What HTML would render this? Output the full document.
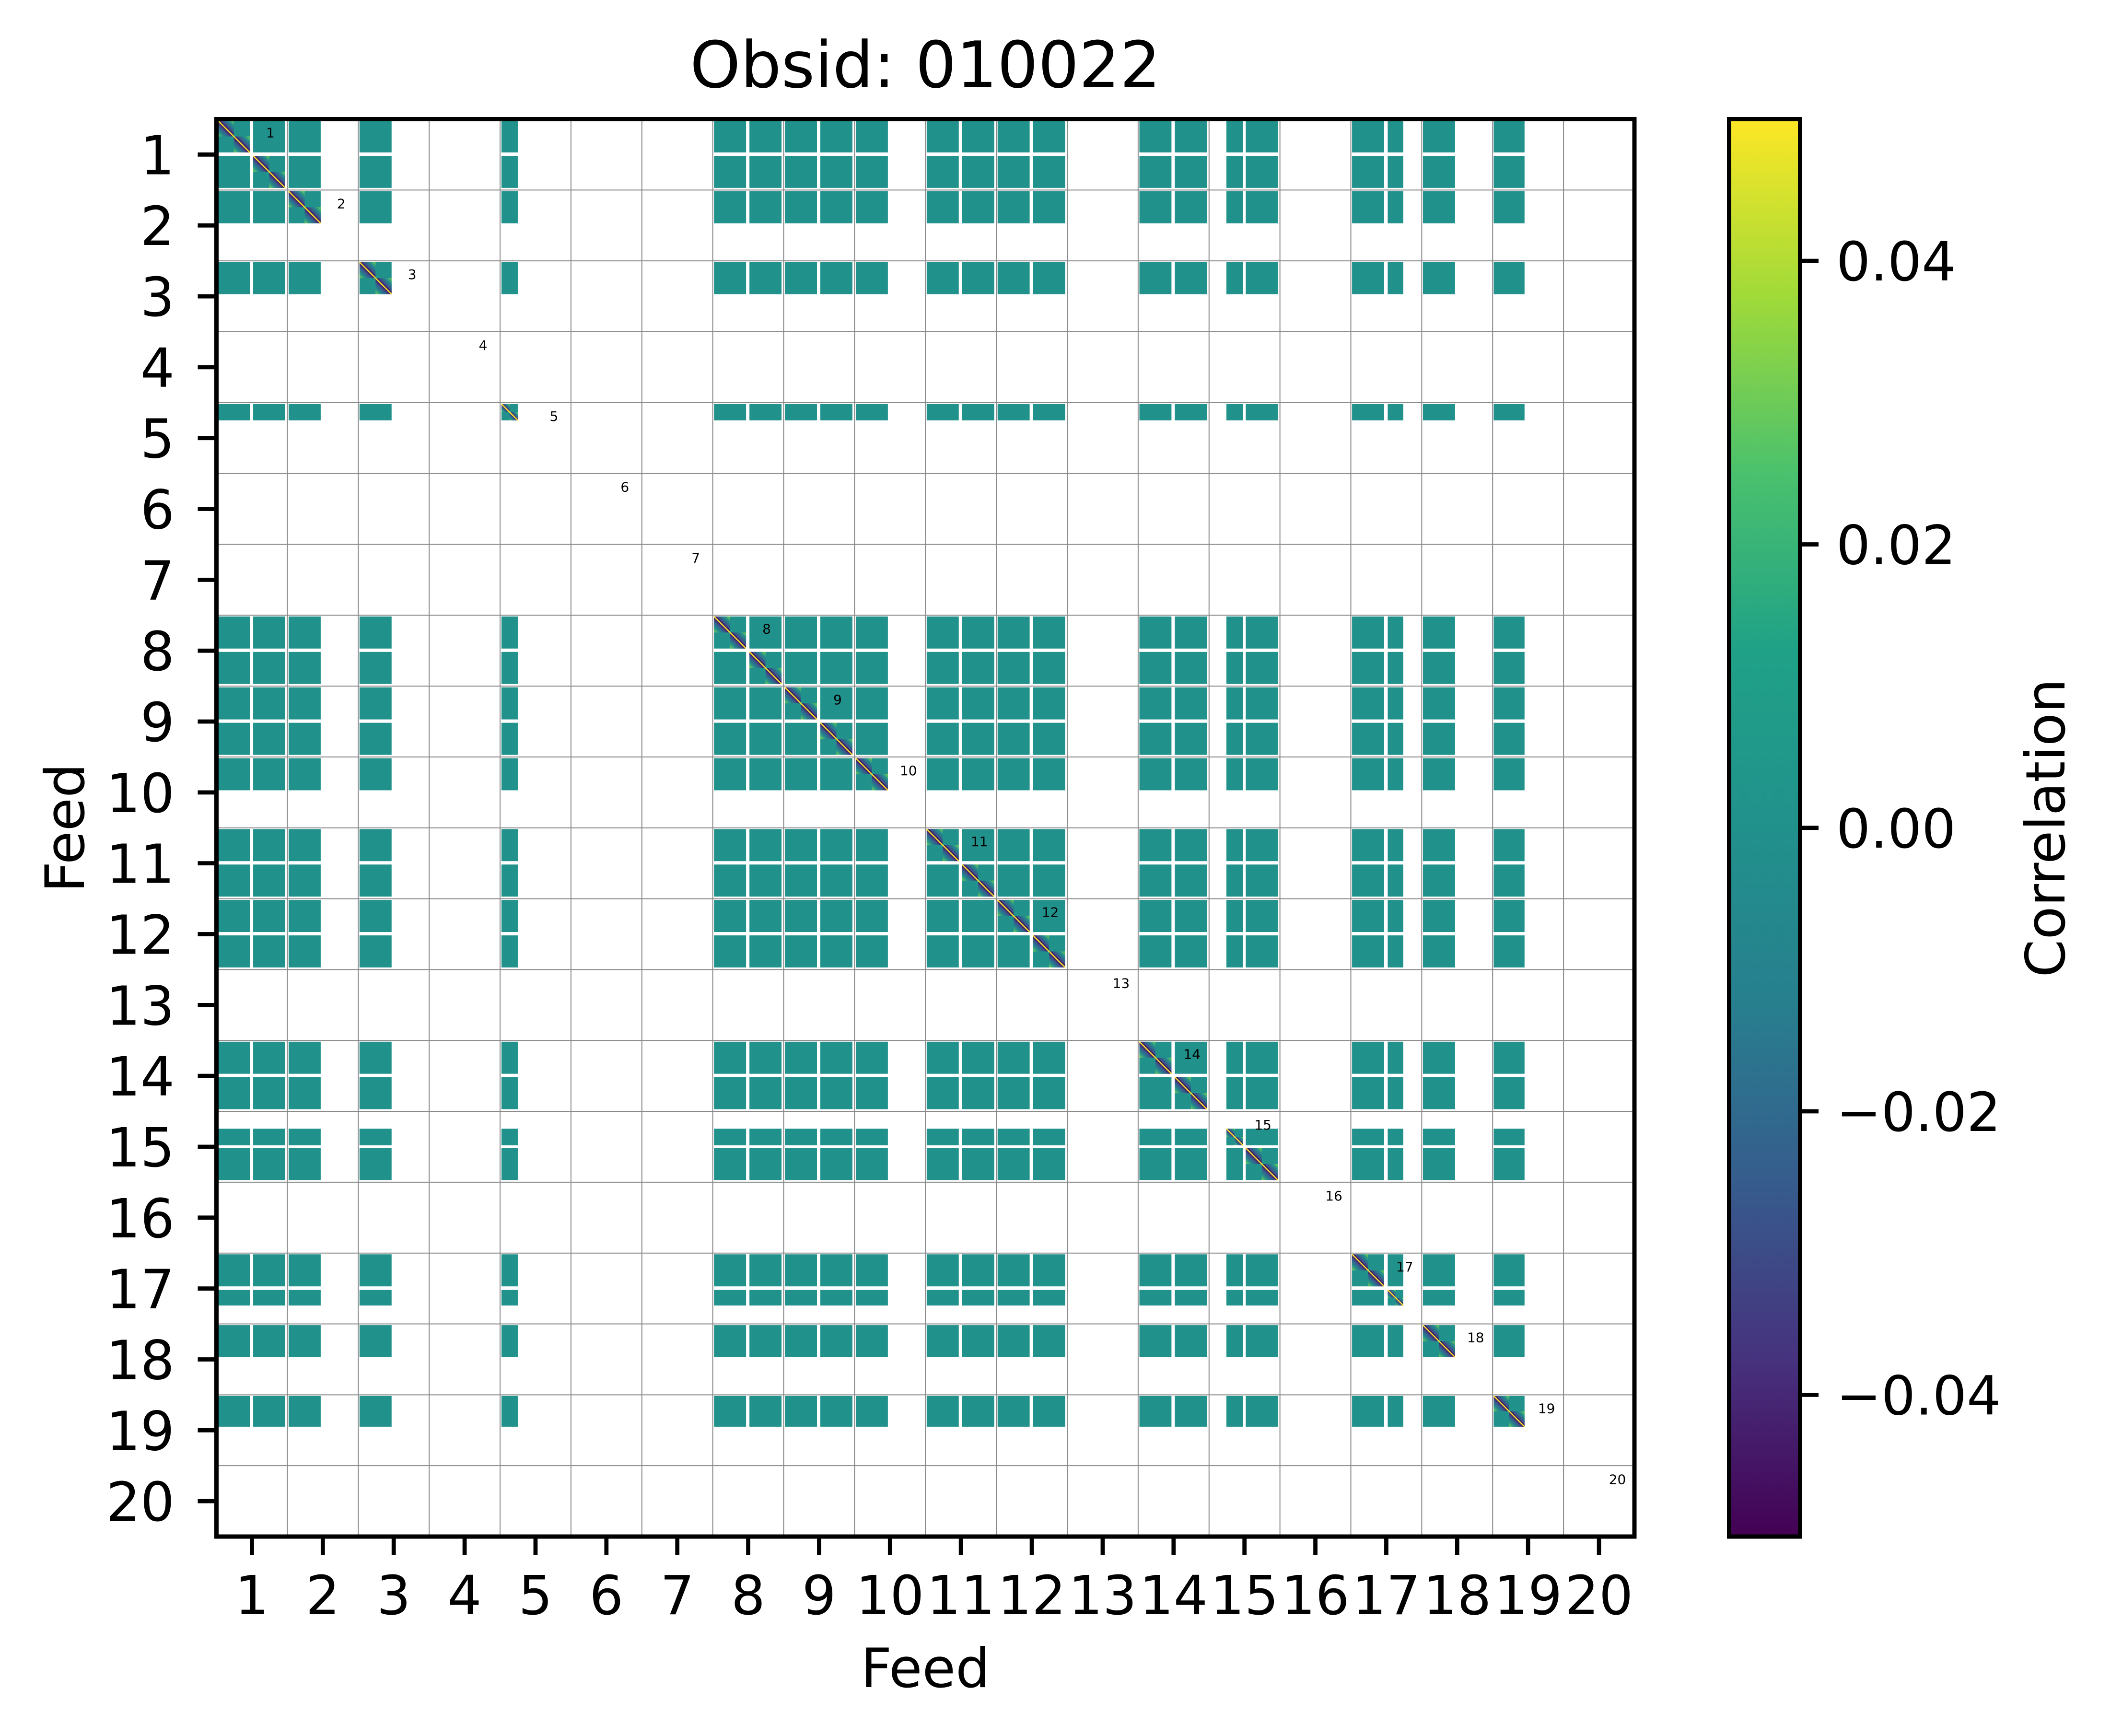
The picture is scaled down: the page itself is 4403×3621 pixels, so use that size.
<!DOCTYPE html>
<html><head><meta charset="utf-8"><title>Obsid: 010022</title>
<style>
html,body{margin:0;padding:0;background:#fff;}
svg{display:block;font-family:"DejaVu Sans","Liberation Sans",sans-serif;}
</style></head>
<body>
<svg id="chart" xmlns="http://www.w3.org/2000/svg" width="4403" height="3621" viewBox="0 0 4403 3621">
<defs>
<linearGradient id="viridis" x1="0" y1="1" x2="0" y2="0">
<stop offset="0" stop-color="#440154"/><stop offset="0.125" stop-color="#46327e"/><stop offset="0.25" stop-color="#365c8d"/><stop offset="0.375" stop-color="#277f8e"/><stop offset="0.5" stop-color="#21918c"/><stop offset="0.625" stop-color="#1fa187"/><stop offset="0.75" stop-color="#4ac16d"/><stop offset="0.875" stop-color="#a0da39"/><stop offset="1" stop-color="#fde725"/>
</linearGradient>
<linearGradient id="diagGrad" x1="1" y1="0" x2="0" y2="1">
<stop offset="0" stop-color="#7ad151"/><stop offset="0.18" stop-color="#21918c"/><stop offset="0.38" stop-color="#3b528b"/><stop offset="0.5" stop-color="#440154"/><stop offset="0.62" stop-color="#3b528b"/><stop offset="0.82" stop-color="#21918c"/><stop offset="1" stop-color="#7ad151"/>
</linearGradient>
</defs>
<g id="grid"></g>
<g id="cells"></g>
<g id="labels"></g>
<g id="axes"></g>
<text x="1930" y="182" font-size="134" text-anchor="middle">Obsid: 010022</text>
<text x="1930" y="3519" font-size="113" text-anchor="middle">Feed</text>
<text x="175" y="1727" font-size="113" text-anchor="middle" transform="rotate(-90 175 1727)">Feed</text>
<rect x="3606.5" y="248.5" width="148" height="2956.5" fill="url(#viridis)" stroke="#000" stroke-width="9"/>
<g id="cbar"></g>
<text x="4306" y="1727" font-size="113" text-anchor="middle" transform="rotate(-90 4306 1727)">Correlation</text>
</svg>
<script>
const feeds = [1,2,3,4,5,6,7,8,9,10,11,12,13,14,15,16,17,18,19,20];
// valid-channel extent of each half-feed block (fraction of half cell), index = 2*(feed-1)+half
const halfLo = [0.035,0.035, 0.035,0, 0.035,0, 0,0, 0.04,0, 0,0, 0,0, 0.035,0.035, 0.035,0.035, 0.035,0,
                0.035,0.035, 0.035,0.035, 0,0, 0.035,0.035, 0.49,0.035, 0,0, 0.035,0.04, 0.035,0, 0.03,0, 0,0];
const halfHi = [0.94,0.94, 0.94,0, 0.94,0, 0,0, 0.5,0, 0,0, 0,0, 0.94,0.94, 0.94,0.94, 0.94,0,
                0.94,0.94, 0.94,0.94, 0,0, 0.94,0.94, 0.96,0.94, 0,0, 0.94,0.48, 0.94,0, 0.9,0, 0,0];
const offDiagCorr = 0.0;
const cbarTicks = [-0.04,-0.02,0.00,0.02,0.04];
const cbarLabels = ["\u22120.04","\u22120.02","0.00","0.02","0.04"];

const NS='http://www.w3.org/2000/svg';
const X0=451.5, Y0=248.5, W=2957.5, H=2956.5, N=20;
const CB0=248.5, CB1=3205, VMIN=-0.05, VMAX=0.05;
function xs(v){return X0+v/N*W;}
function ys(v){return Y0+v/N*H;}
function cby(v){return CB1-(v-VMIN)/(VMAX-VMIN)*(CB1-CB0);}
function viridis(v){
  const stops=[[68,1,84],[59,82,139],[33,145,140],[94,201,98],[253,231,37]];
  let t=Math.max(0,Math.min(1,(v-VMIN)/(VMAX-VMIN)))*(stops.length-1);
  const i=Math.min(stops.length-2,Math.floor(t)); const f=t-i;
  const c=stops[i].map((a,k)=>Math.round(a+(stops[i+1][k]-a)*f));
  return 'rgb('+c.join(',')+')';
}
function mk(tag,attrs,parent){const e=document.createElementNS(NS,tag);for(const k in attrs)e.setAttribute(k,attrs[k]);parent.appendChild(e);return e;}

const grid=document.getElementById('grid');
for(let k=1;k<N;k++){
  const v=mk('line',{x1:xs(k),x2:xs(k),y1:Y0,y2:Y0+H,stroke:'#8a8a8a','stroke-width':2},grid);
  
  
  const h=mk('line',{x1:X0,x2:X0+W,y1:ys(k),y2:ys(k),stroke:'#8a8a8a','stroke-width':2},grid);
  
  
}

const cells=document.getElementById('cells');
const nh=halfLo.length;
function lo(i){return i*0.5+halfLo[i]*0.5;}
function hi(i){return i*0.5+halfHi[i]*0.5;}
for(let r=0;r<nh;r++){
  if(halfHi[r]<=halfLo[r]) continue;
  for(let c=0;c<nh;c++){
    if(halfHi[c]<=halfLo[c]) continue;
    const x=xs(lo(c)), y=ys(lo(r)), w=xs(hi(c))-x, h=ys(hi(r))-y;
    if(r===c){
      const g=mk('g',{},cells);
      
      
      mk('rect',{x:x,y:y,width:w,height:h,fill:viridis(offDiagCorr)},g);
      mk('rect',{x:x,y:y,width:w/2,height:h/2,fill:'url(#diagGrad)'},g);
      mk('rect',{x:x+w/2,y:y+h/2,width:w/2,height:h/2,fill:'url(#diagGrad)'},g);
      mk('line',{x1:x,y1:y,x2:x+w,y2:y+h,stroke:'#fde725','stroke-width':2.5},g);
    } else {
      const e=mk('rect',{x:x,y:y,width:w,height:h,fill:viridis(offDiagCorr)},cells);
      
      
    }
  }
}

const labels=document.getElementById('labels');
feeds.forEach((f,i)=>{
  const t=mk('text',{x:xs(i+0.76),y:ys(i+0.19)+10,'font-size':28,'text-anchor':'middle'},labels);
  t.textContent=String(f);
  
  
});

const axes=document.getElementById('axes');
const frame=mk('rect',{x:X0,y:Y0,width:W,height:H,fill:'none',stroke:'#000','stroke-width':9},axes);


feeds.forEach((f,i)=>{
  const cx=xs(i+0.5), cy=ys(i+0.5);
  const tx=mk('line',{x1:cx,x2:cx,y1:Y0+H,y2:Y0+H+39,stroke:'#000','stroke-width':8.75},axes);
  
  
  const lx=mk('text',{x:cx,y:3367,'font-size':112,'text-anchor':'middle'},axes);
  lx.textContent=String(f);
  
  
  const ty=mk('line',{x1:X0-39,x2:X0,y1:cy,y2:cy,stroke:'#000','stroke-width':8.75},axes);
  
  
  const ly=mk('text',{x:364,y:cy+41,'font-size':112,'text-anchor':'end'},axes);
  ly.textContent=String(f);
  
  
});

const cbar=document.getElementById('cbar');
cbarTicks.forEach((v,i)=>{
  const y=cby(v);
  const t=mk('line',{x1:3754.5,x2:3793,y1:y,y2:y,stroke:'#000','stroke-width':8.75},cbar);
  
  
  const l=mk('text',{x:3830,y:y+41,'font-size':112},cbar);
  l.textContent=cbarLabels[i];
  
  
});
</script>
</body></html>
